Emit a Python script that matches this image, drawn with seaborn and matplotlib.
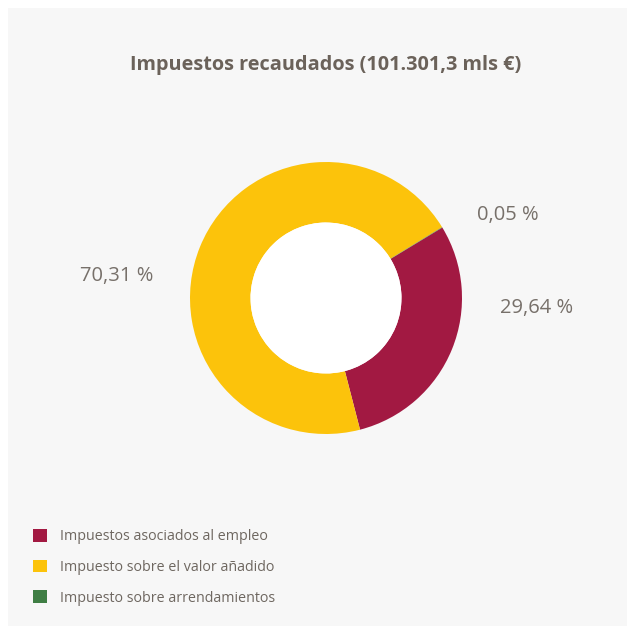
import matplotlib
matplotlib.use("Agg")
import matplotlib.pyplot as plt
from matplotlib.patches import Patch, Rectangle, Circle
import seaborn as sns

# data
categories = ["Impuestos asociados al empleo",
              "Impuesto sobre el valor añadido",
              "Impuesto sobre arrendamientos"]
shares = [29.64, 70.31, 0.05]
share_labels = ["29,64 %", "70,31 %", "0,05 %"]
colors = ["#a21942", "#fcc30b", "#3f7e44"]
title = "Impuestos recaudados (101.301,3 mls €)"

sns.set_theme(style="white")
plt.rcParams["font.family"] = ["Open Sans", "DejaVu Sans"]
text_color = "#6e6760"

W, H = 627, 626
fig = plt.figure(figsize=(W / 100, H / 100), dpi=100)
fig.patch.set_facecolor("white")
fig.patches.append(Rectangle((8 / W, 0), 1, 1 - 8 / H, transform=fig.transFigure,
                             facecolor="#f7f7f7", edgecolor="none", zorder=-10))

cx, cy, r = 326, 298, 136
ax = fig.add_axes([(cx - r) / W, (H - cy - r) / H, 2 * r / W, 2 * r / H])
ax.set_facecolor("none")
ax.set_zorder(5)

ring = 0.445
ax.pie(shares, colors=colors, startangle=31.2, counterclock=False,
       radius=1, wedgeprops=dict(width=ring, edgecolor="none"))
ax.add_patch(Circle((0, 0), 1 - ring, facecolor="white", edgecolor="none"))
ax.set_xlim(-1, 1)
ax.set_ylim(-1, 1)
ax.set_aspect("equal")
ax.axis("off")

# percentage labels (text positions in axes-data units)
label_pos = [(1.55, -0.07), (-1.54, 0.16), (1.34, 0.61)]
for txt, (x, y) in zip(share_labels, label_pos):
    ax.text(x, y, txt, ha="center", va="center", fontsize=14.5,
            color="#77706a", clip_on=False)

fig.text(326 / W, 1 - 65 / H, title, ha="center", va="center",
         fontsize=14.3, fontweight="bold", color="#6b625a")

handles = [Patch(facecolor=c, edgecolor="none") for c in colors]
fig.legend(handles, categories, loc="upper left",
           bbox_to_anchor=(20 / W, 1 - 516 / H), frameon=False,
           handlelength=1.0, handleheight=1.0, handletextpad=0.9,
           labelspacing=1.08, fontsize=10.3, labelcolor=text_color)

fig.savefig("out.png", dpi=100)
